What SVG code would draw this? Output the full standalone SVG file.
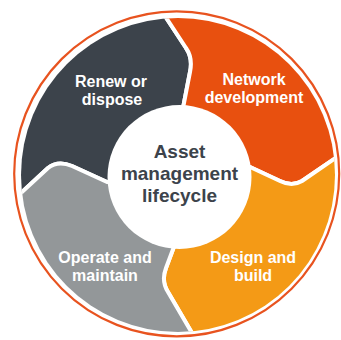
<svg xmlns="http://www.w3.org/2000/svg" width="341" height="340" viewBox="0 0 341 340">
<style>
.seg{stroke:#ffffff;stroke-width:4;stroke-linejoin:round}
.lbl{font-family:"Liberation Sans",Arial,sans-serif;font-weight:bold;font-size:16px;fill:#ffffff;text-anchor:middle}
.ctr{font-family:"Liberation Sans",Arial,sans-serif;font-weight:bold;font-size:19px;fill:#3c434b;text-anchor:middle}
</style>
<defs>
<clipPath id="disk"><circle cx="178" cy="175" r="157"/></clipPath>
</defs>
<rect width="341" height="340" fill="#ffffff"/>
<circle id="ring" cx="176.7" cy="173.8" r="162.5" fill="none" stroke="#e8531f" stroke-width="2.2"/>
<g id="renew" clip-path="url(#disk)">
<path class="seg" fill="#3c434b" d="M179,177 L107,182 L72,166 Q58,160 48,168 L22,192 L4,208 L-10,-10 L152,-3 L165,16 L186,48 Q193,58 190,72 L183,108 Z"/>
<text class="lbl" x="111" y="87">Renew or</text>
<text class="lbl" x="112" y="105">dispose</text>
</g>
<g id="network" clip-path="url(#disk)">
<path class="seg" fill="#e8500f" d="M179,177 L183,108 L190,72 Q193,58 186,48 L165,16 L152,-3 L350,-10 L355,145 L337,157 L302,181 Q292,187 280,181 L250,167 Z"/>
<text class="lbl" x="254" y="85">Network</text>
<text class="lbl" x="254" y="103">development</text>
</g>
<g id="design" clip-path="url(#disk)">
<path class="seg" fill="#f49a16" d="M179,177 L250,167 L280,181 Q292,187 302,181 L337,157 L355,145 L355,355 L204,354 L192,333 L168,292 Q161,281 166,268 L175,244 Z"/>
<text class="lbl" x="253" y="263">Design and</text>
<text class="lbl" x="253" y="281">build</text>
</g>
<g id="operate" clip-path="url(#disk)">
<path class="seg" fill="#939799" d="M179,177 L175,244 L166,268 Q161,281 168,292 L192,333 L204,354 L-10,355 L4,208 L22,192 L48,168 Q58,160 72,166 L107,182 Z"/>
<text class="lbl" x="105" y="263">Operate and</text>
<text class="lbl" x="105" y="281">maintain</text>
</g>
<g id="center">
<circle cx="179.5" cy="177" r="72" fill="#ffffff"/>
<text class="ctr" x="179.5" y="158">Asset</text>
<text class="ctr" x="179.5" y="180">management</text>
<text class="ctr" x="179.5" y="202">lifecycle</text>
</g>
<g id="connectors"/>
</svg>
